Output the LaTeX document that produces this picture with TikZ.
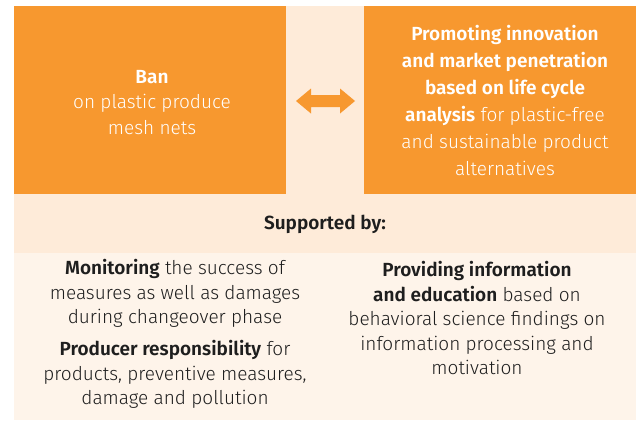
\documentclass[tikz,border=0pt]{standalone}
\usepackage{fontspec}
\setmainfont{Fira Sans Light}[BoldFont={Fira Sans SemiBold}]
\definecolor{orangebox}{HTML}{F7982F}
\definecolor{bandcol}{HTML}{FEEBD9}
\definecolor{lowcol}{HTML}{FEF4EA}
\definecolor{darktext}{HTML}{1E1E1E}
\begin{document}
\begin{tikzpicture}[x=1pt,y=-1pt,
  boxtext/.style={align=center, text=white, inner sep=0pt, font=\fontsize{19}{25.5}\selectfont},
  lowtext/.style={align=center, text=darktext, inner sep=0pt, font=\fontsize{19}{24.5}\selectfont}]
\useasboundingbox (0,0) rectangle (636,421);
% panels
\fill[bandcol] (14,6) rectangle (636,253);
\fill[lowcol] (14,253) rectangle (636,420);
\fill[orangebox] (14,6) rectangle (286,194);
\fill[orangebox] (364,6) rectangle (636,194);
% arrow
\fill[orangebox] (296,101) -- (311,88.5) -- (311,95) -- (340,95) -- (340,88.5) -- (355,101)
  -- (340,113.5) -- (340,107) -- (311,107) -- (311,113.5) -- cycle;
% texts
\node[boxtext] (ban) at (152,102.5) {\textbf{Ban}\\on plastic produce\\mesh nets};
\node[boxtext, font=\fontsize{19}{27}\selectfont] (promo) at (505,100.5)
  {\textbf{Promoting innovation}\\\textbf{and market penetration}\\\textbf{based on life cycle}\\\textbf{analysis} for plastic-free\\and sustainable product\\alternatives};
\node[lowtext] (supp) at (325,224) {\textbf{Supported by:}};
\node[lowtext] (mon) at (175,334) {\textbf{Monitoring} the success of\\measures as well as damages\\during changeover phase\\[7.5pt]\textbf{Producer responsibility} for\\products, preventive measures,\\damage and pollution};
\node[lowtext] (prov) at (477,318) {\textbf{Providing information}\\\textbf{and education} based on\\behavioral science findings on\\information processing and\\motivation};
\end{tikzpicture}
\end{document}
